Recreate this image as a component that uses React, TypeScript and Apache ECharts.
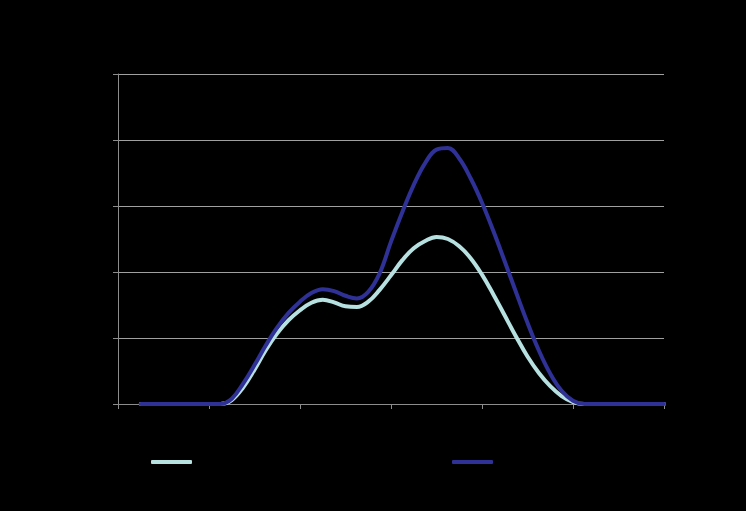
import React, { useEffect, useRef } from "react";
import * as echarts from "echarts";

const xValues = [
  0.25, 0.5, 0.75, 1.0, 1.125, 1.25, 1.375, 1.5, 1.625, 1.75, 1.875, 2.0, 2.125, 2.25, 2.375, 2.5, 2.625, 2.75, 2.875,
  3.0, 3.125, 3.25, 3.375, 3.5, 3.625, 3.75, 3.875, 4.0, 4.125, 4.25, 4.375, 4.5, 4.625, 4.75, 4.875, 5.0, 5.125,
  5.25, 5.5, 5.75, 6.0,
];
const lightValues = [
  0, 0, 0, 0, 0, 0.06, 0.25, 0.52, 0.82, 1.07, 1.27, 1.42, 1.535, 1.58, 1.54, 1.48, 1.47, 1.55, 1.73,
  1.95, 2.18, 2.36, 2.47, 2.53, 2.5, 2.39, 2.21, 1.96, 1.66, 1.34, 1.02, 0.72, 0.47, 0.27, 0.12, 0.03, 0,
  0, 0, 0, 0,
];
const darkValues = [
  0, 0, 0, 0, 0, 0.08, 0.31, 0.59, 0.89, 1.16, 1.38, 1.55, 1.68, 1.74, 1.71, 1.64, 1.6, 1.7, 1.98,
  2.46, 2.91, 3.32, 3.65, 3.855, 3.88, 3.72, 3.42, 3.05, 2.62, 2.16, 1.69, 1.23, 0.81, 0.46, 0.2, 0.05, 0,
  0, 0, 0, 0,
];
const seriesNames = ["Series 1", "Series 2"];
const lightColor = "#b7e0e1";
const darkColor = "#2f3196";

export default function App() {
  const ref = useRef<HTMLDivElement>(null);
  useEffect(() => {
    document.body.style.margin = "0";
    document.body.style.background = "#000";
    const chart = echarts.init(ref.current!, null, { renderer: "svg" });
    const mk = (vals: number[]) => xValues.map((x, i) => [x, vals[i]]);
    const legendCommon = {
      top: 460,
      padding: 0,
      itemWidth: 41,
      itemHeight: 4,
      icon: "roundRect",
      formatter: () => "",
      textStyle: { color: "#000", fontSize: 1, lineHeight: 1 },
    };
    chart.setOption({
      animation: false,
      backgroundColor: "#000000",
      grid: { left: 118, right: 82, top: 74, bottom: 107 },
      legend: [
        { ...legendCommon, data: [seriesNames[0]], left: 151 },
        { ...legendCommon, data: [seriesNames[1]], left: 452 },
      ],
      xAxis: {
        type: "value",
        min: 0,
        max: 6,
        interval: 1,
        axisLine: { show: true, lineStyle: { color: "#8c8c8c", width: 1 } },
        axisTick: { show: true, length: 5, lineStyle: { color: "#8c8c8c" } },
        axisLabel: { show: false },
        splitLine: { show: false },
      },
      yAxis: {
        type: "value",
        min: 0,
        max: 5,
        interval: 1,
        axisLine: { show: true, lineStyle: { color: "#8c8c8c", width: 1 } },
        axisTick: { show: true, length: 5, lineStyle: { color: "#8c8c8c" } },
        axisLabel: { show: false },
        splitLine: { show: true, lineStyle: { color: "#a0a0a0", width: 1 } },
      },
      series: [
        {
          name: seriesNames[0],
          type: "line",
          data: mk(lightValues),
          smooth: 0.4,
          showSymbol: false,
          symbol: "none",
          lineStyle: { color: lightColor, width: 4, cap: "round", join: "round" },
          itemStyle: { color: lightColor },
        },
        {
          name: seriesNames[1],
          type: "line",
          data: mk(darkValues),
          smooth: 0.4,
          showSymbol: false,
          symbol: "none",
          lineStyle: { color: darkColor, width: 4, cap: "round", join: "round" },
          itemStyle: { color: darkColor },
        },
      ],
    });
    return () => chart.dispose();
  }, []);
  return (
    <div
      ref={ref}
      style={{ position: "absolute", left: 0, top: 0, width: 746, height: 511, background: "#000" }}
    />
  );
}
